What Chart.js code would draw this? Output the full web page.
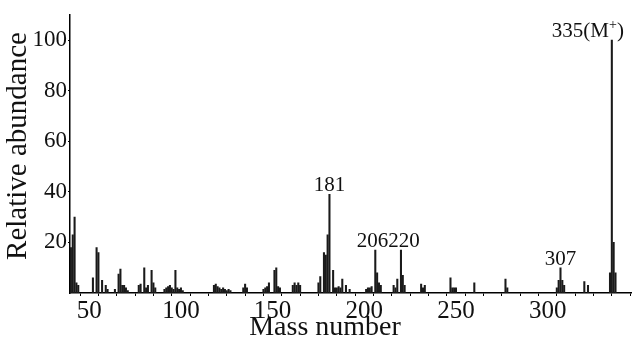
<!DOCTYPE html>
<html>
<head>
<meta charset="utf-8">
<script src="https://cdn.jsdelivr.net/npm/chart.js@4.4.0/dist/chart.umd.min.js"></script>
<style>
  html, body { margin: 0; padding: 0; background: #fff; }
</style>
</head>
<body>
<canvas id="espectro" width="632" height="338"></canvas>
<script>
// m/z de cada pico y su abundancia relativa (%)
const masas = [40, 41, 42, 43, 44, 52, 54, 55, 57, 59, 60,
  64, 66, 67, 68, 69, 70, 71, 77, 78, 80, 81, 82, 84, 85, 86,
  91, 92, 93, 94, 95, 96, 97, 98, 99, 100, 101,
  118, 119, 120, 121, 122, 123, 124, 125, 126, 127, 134, 135, 136,
  145, 146, 147, 148, 151, 152, 153, 154, 161, 162, 163, 164, 165,
  175, 176, 178, 179, 180, 181, 183, 184, 185, 186, 187, 188, 190, 192,
  201, 202, 203, 204, 206, 207, 208, 209, 216, 217, 218, 220, 221, 222,
  231, 232, 233, 247, 248, 249, 250, 260, 277, 278,
  305, 306, 307, 308, 309, 320, 322, 334, 335, 336, 337];
const abundancias = [18, 23, 30, 4, 3, 6, 18, 16, 5, 3, 1.5,
  1.5, 7.5, 9.5, 3, 3, 2, 1, 3, 3.5, 10, 2, 3, 9, 4, 2,
  1.5, 2, 2.5, 3, 2, 1.5, 9, 2, 1.5, 2, 1,
  3, 3.5, 2.5, 2, 1.5, 2, 1.5, 1, 1.5, 1, 2, 3.5, 2,
  1.5, 2, 2.5, 4, 9, 10, 2.5, 2, 3, 4, 3, 4, 3,
  4, 6.5, 16, 15, 23, 39, 9, 2, 2, 2.5, 2, 5.5, 3, 1.5,
  1.5, 2, 2, 2.5, 17, 8, 4, 3, 3, 2, 5.5, 17, 7, 3,
  3.5, 2, 3, 6, 2, 2, 2, 4, 5.5, 2,
  2, 5, 10, 5, 3, 4.5, 3, 8, 100, 20, 8];

// picos rotulados
const etiquetaMasas = [181, 206, 220, 307, 335];

const yTicks = [20, 40, 60, 80, 100];
const xTicks = [50, 100, 150, 200, 250, 300];

const serif = '"Liberation Serif", "DejaVu Serif", serif';

const rotulos = {
    id: 'rotulos',
    afterDatasetsDraw(chart) {
        const { ctx, scales: { x, y } } = chart;
        const pos = m => ({
            px: x.getPixelForValue(m),
            py: y.getPixelForValue(abundancias[masas.indexOf(m)]) - 3
        });
        ctx.save();
        ctx.fillStyle = '#111';
        ctx.textBaseline = 'alphabetic';
        ctx.font = '21px ' + serif;

        etiquetaMasas.forEach(m => {
            const { px, py } = pos(m);
            if (m === 206 || m === 220) {
                // los dos rótulos quedan pegados: "206220"
                const medio = (x.getPixelForValue(206) + x.getPixelForValue(220)) / 2;
                ctx.textAlign = m === 206 ? 'right' : 'left';
                ctx.fillText(String(m), medio, py);
            } else if (m === 335) {
                ctx.textAlign = 'left';
                let cx = px - 60;
                const base = String(m) + '(M';
                ctx.fillText(base, cx, py);
                cx += ctx.measureText(base).width;
                ctx.font = '14px ' + serif;
                ctx.fillText('+', cx, py - 8);
                cx += ctx.measureText('+').width;
                ctx.font = '21px ' + serif;
                ctx.fillText(')', cx, py);
            } else {
                ctx.textAlign = 'center';
                ctx.fillText(String(m), px, py);
            }
        });

        // títulos de los ejes
        ctx.font = '28px ' + serif;
        ctx.textAlign = 'center';
        ctx.textBaseline = 'middle';
        ctx.fillText('Mass number', 325, 328);

        ctx.translate(18, 146);
        ctx.rotate(-Math.PI / 2);
        ctx.font = '29px ' + serif;
        ctx.fillText('Relative abundance', 0, 0);
        ctx.restore();
    }
};

new Chart(document.getElementById('espectro').getContext('2d'), {
    type: 'bar',
    data: {
        datasets: [{
            data: masas.map((m, i) => ({ x: m, y: abundancias[i] })),
            backgroundColor: '#1a1a1a',
            barThickness: 1.4
        }]
    },
    options: {
        responsive: false,
        animation: false,
        devicePixelRatio: 1,
        layout: { padding: { top: 12, right: 0, left: 0, bottom: 0 } },
        plugins: {
            legend: { display: false },
            tooltip: { enabled: false }
        },
        scales: {
            x: {
                type: 'linear',
                min: 39.5,
                max: 346,
                offset: false,
                afterFit: s => { s.height = 45; },
                afterBuildTicks: s => {
                    const t = [];
                    for (let v = 40; v <= 340; v += 10) t.push({ value: v });
                    s.ticks = t;
                },
                ticks: {
                    autoSkip: false,
                    maxRotation: 0,
                    padding: 0,
                    color: '#111',
                    font: { family: serif, size: 25 },
                    callback: v => xTicks.includes(v) ? String(v) : ''
                },
                grid: { drawOnChartArea: false, tickLength: 3, color: '#000' },
                border: { color: '#000', width: 1.5 }
            },
            y: {
                min: 0,
                max: 110,
                afterFit: s => { s.width = 70; },
                afterBuildTicks: s => { s.ticks = yTicks.map(v => ({ value: v })); },
                ticks: {
                    padding: 1,
                    color: '#111',
                    font: { family: serif, size: 23 }
                },
                grid: { drawOnChartArea: false, tickLength: 2, color: '#000' },
                border: { color: '#000', width: 1.5 }
            }
        }
    },
    plugins: [rotulos]
});
</script>
</body>
</html>
